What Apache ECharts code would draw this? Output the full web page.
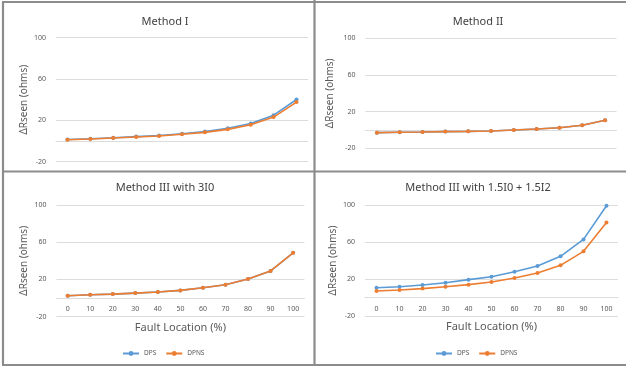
<!DOCTYPE html>
<html>
<head>
<meta charset="utf-8">
<script src="https://cdn.jsdelivr.net/npm/echarts@6/dist/echarts.min.js"></script>
<style>
  html, body { margin: 0; padding: 0; background: #fff; }
  #chart { width: 626px; height: 371px; }
</style>
</head>
<body>
<div id="chart"></div>
<script>
// Fault location along the line (%)
const faultLocation = ['0', '10', '20', '30', '40', '50', '60', '70', '80', '90', '100'];

// ΔRseen (ohms) per method
const m1DPS  = [1.5, 2.2, 3.2, 4.3, 5.3, 7.0, 9.2, 12.3, 17.0, 25.0, 40.2];
const m1DPNS = [1.3, 1.9, 2.9, 3.9, 4.8, 6.5, 8.4, 11.3, 15.8, 23.2, 37.7];

const m2DPS  = [-2.9, -2.5, -2.2, -1.8, -1.5, -1.1, 0.0, 1.1, 2.5, 5.1, 10.5];
const m2DPNS = [-2.9, -2.5, -2.2, -1.8, -1.5, -1.1, 0.0, 1.1, 2.5, 5.1, 10.5];

const m3DPS  = [2.3, 3.4, 4.1, 5.2, 6.3, 8.1, 11.0, 14.2, 20.4, 29.0, 48.5];
const m3DPNS = [2.3, 3.4, 4.1, 5.2, 6.3, 8.1, 11.0, 14.2, 20.4, 29.0, 48.5];

const m4DPS  = [10.6, 11.7, 13.5, 16.0, 19.3, 22.5, 27.9, 34.0, 44.5, 62.8, 99.2];
const m4DPNS = [7.0, 8.1, 9.6, 11.7, 13.9, 16.8, 21.1, 26.5, 34.8, 49.9, 81.2];

const panelTitles = ['Method I', 'Method II', 'Method III with 3I0', 'Method III with 1.5I0 + 1.5I2'];
const yTicks = [-20, 20, 60, 100];
const Y_MIN = -20, Y_MAX = 100;
const seriesNames = ['DPS', 'DPNS'];

const BLUE = '#5B9BD5';
const ORANGE = '#ED7D31';
const GRID_COLOR = '#dcdcdc';
const TEXT = '#595959';
const FONT = '"Noto Sans", "Liberation Sans", sans-serif';

const panels = [
  { grid: { left: 56, top: 37.7, width: 252, height: 124 }, title: [160, 11], showX: false, yName: 27, data: [m1DPS, m1DPNS] },
  { grid: { left: 365.5, top: 38.3, width: 251, height: 110 }, title: [473, 11], showX: false, yName: 30, data: [m2DPS, m2DPNS] },
  { grid: { left: 56.4, top: 205, width: 248, height: 111.5 }, title: [160, 177], showX: true, yName: 27, data: [m3DPS, m3DPNS] },
  { grid: { left: 365, top: 205, width: 253, height: 111 }, title: [473, 177], showX: true, yName: 27, data: [m4DPS, m4DPNS] }
];

const chart = echarts.init(document.getElementById('chart'), null, { renderer: 'canvas' });

const grids = [], xAxes = [], yAxes = [], series = [], titles = [];

panels.forEach((p, i) => {
  grids.push(Object.assign({ containLabel: false }, p.grid));
  titles.push({
    text: panelTitles[i],
    left: p.title[0], top: p.title[1], textAlign: 'center',
    textStyle: { fontFamily: FONT, fontSize: 11, fontWeight: 'normal', color: '#404040' }
  });
  // category axis sits where the value axis crosses zero, labels just under it
  const zeroOffset = -p.grid.height * (0 - Y_MIN) / (Y_MAX - Y_MIN);
  xAxes.push({
    type: 'category', gridIndex: i, data: faultLocation, boundaryGap: true,
    position: 'bottom', offset: zeroOffset,
    axisLine: { onZero: false, lineStyle: { color: GRID_COLOR, width: 1 } },
    axisTick: { show: false },
    axisLabel: { show: p.showX, fontSize: 7, color: TEXT, fontFamily: FONT, margin: 8, interval: 0 },
    name: p.showX ? 'Fault Location (%)' : '',
    nameLocation: 'middle', nameGap: 24,
    nameTextStyle: { fontSize: 11, color: TEXT, fontFamily: FONT },
    splitLine: { show: false }
  });
  yAxes.push({
    type: 'value', gridIndex: i, min: Y_MIN, max: Y_MAX, interval: 20,
    axisLine: { show: false }, axisTick: { show: false },
    splitLine: { show: false },
    axisLabel: {
      fontSize: 7, color: TEXT, fontFamily: FONT, margin: 10,
      formatter: v => (yTicks.indexOf(v) >= 0 ? String(v) : '')
    },
    name: 'ΔRseen (ohms)', nameLocation: 'middle', nameRotate: 90, nameGap: p.yName,
    nameTextStyle: { fontSize: 10, color: TEXT, fontFamily: FONT }
  });
  p.data.forEach((vals, k) => {
    const s = {
      name: seriesNames[k], type: 'line', xAxisIndex: i, yAxisIndex: i,
      data: vals, symbol: 'circle', symbolSize: 4, smooth: false,
      lineStyle: { width: 1.6, color: k === 0 ? BLUE : ORANGE },
      itemStyle: { color: k === 0 ? BLUE : ORANGE },
      z: 3 + k, animation: false
    };
    if (k === 0) {
      // horizontal gridlines at the labelled values
      s.markLine = {
        silent: true, symbol: 'none', label: { show: false },
        lineStyle: { color: GRID_COLOR, type: 'solid', width: 1 },
        data: yTicks.map(t => ({ yAxis: t })),
        z: 1, animation: false
      };
    }
    series.push(s);
  });
});

const legendStyle = {
  orient: 'horizontal', itemWidth: 16, itemHeight: 6, itemGap: 9, padding: 0,
  textStyle: { fontSize: 6.5, color: TEXT, fontFamily: FONT },
  data: seriesNames
};

const borderStyle = { stroke: '#8c8c8c', lineWidth: 2.2 };

chart.setOption({
  animation: false,
  backgroundColor: '#fff',
  title: titles,
  grid: grids,
  xAxis: xAxes,
  yAxis: yAxes,
  series: series,
  legend: [
    Object.assign({}, legendStyle, { left: 122, top: 350 }),
    Object.assign({}, legendStyle, { left: 435, top: 350 })
  ],
  graphic: [
    { type: 'line', shape: { x1: 2, y1: 2, x2: 626, y2: 2 }, style: borderStyle, silent: true },
    { type: 'line', shape: { x1: 3, y1: 2, x2: 3, y2: 365 }, style: borderStyle, silent: true },
    { type: 'line', shape: { x1: 2, y1: 365, x2: 626, y2: 365 }, style: borderStyle, silent: true },
    { type: 'line', shape: { x1: 314.5, y1: 0, x2: 314.5, y2: 365 }, style: borderStyle, silent: true },
    { type: 'line', shape: { x1: 2, y1: 171.5, x2: 626, y2: 171.5 }, style: borderStyle, silent: true }
  ]
});
</script>
</body>
</html>
